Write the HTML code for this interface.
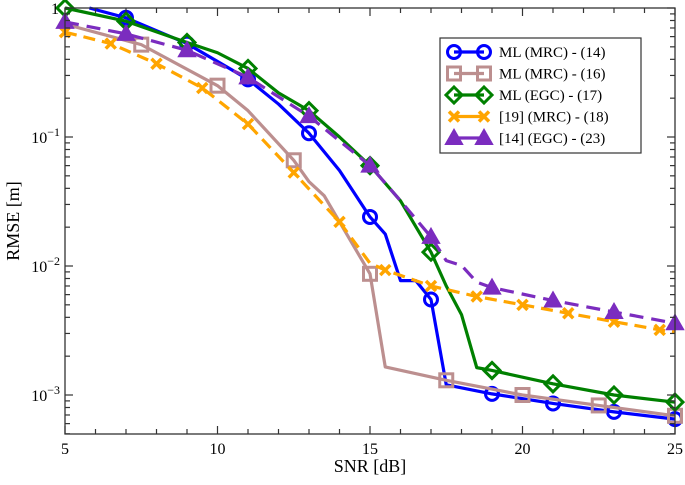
<!DOCTYPE html>
<html><head><meta charset="utf-8"><style>
html,body{margin:0;padding:0;background:#fff;}
svg text{font-family:"Liberation Serif",serif;fill:#000;}
</style></head><body>
<svg id="chart" width="685" height="480" viewBox="0 0 685 480" xmlns="http://www.w3.org/2000/svg">
<g id="grid"></g>
<g id="series"></g>
<rect x="65" y="8" width="610" height="426" fill="none" stroke="#333" stroke-width="1.3"/>
<g id="ticks"></g>
<text x="370" y="472" font-size="18" text-anchor="middle">SNR [dB]</text>
<text transform="translate(19,221) rotate(-90)" font-size="18" text-anchor="middle">RMSE [m]</text>
<g id="legend"></g>
</svg>
<script>
const xTicks=[5,10,15,20,25];
const yTickExps=[0,-1,-2,-3];
const snrA=[5.8,7,9,11,12,13,14,15,15.5,16,16.5,17,17.5,19,21,23,25];
const mlMrc14=[1.0,0.84,0.53,0.28,0.18,0.107,0.055,0.024,0.0177,0.0077,0.0077,0.0055,0.0012,0.00102,0.00086,0.00074,0.00065];
const snrB=[5,7.5,10,11,12.5,13,13.5,15,15.5,17.5,20,22.5,25];
const mlMrc16=[0.75,0.52,0.25,0.16,0.066,0.045,0.035,0.0087,0.00165,0.0013,0.001,0.00083,0.00069];
const snrC=[5,7,9,10,11,12,13,14,15,16,17,17.5,18,18.5,19,21,23,25];
const mlEgc17=[1.0,0.79,0.54,0.45,0.34,0.22,0.16,0.1,0.06,0.032,0.0128,0.007,0.0042,0.00163,0.00155,0.00122,0.001,0.00088];
const snrD=[5,6.5,8,9.5,11,12.5,14,15,15.5,17,18.5,20,21.5,23,24.5,25];
const ref19=[0.65,0.53,0.37,0.24,0.126,0.053,0.022,0.0105,0.0093,0.007,0.0058,0.005,0.0043,0.0037,0.0032,0.0031];
const snrE=[5,7,9,11,13,15,16,17,17.5,18,18.5,19,21,23,25];
const ref14=[0.78,0.63,0.47,0.29,0.145,0.06,0.032,0.0168,0.011,0.0101,0.0075,0.0068,0.0054,0.0044,0.0036];
const markA=[7,9,11,13,15,17,19,21,23,25];
const markB=[7.5,10,12.5,15,17.5,20,22.5,25];
const markC=[5,7,9,11,13,15,17,19,21,23,25];
const markD=[5,6.5,8,9.5,11,12.5,14,15.5,17,18.5,20,21.5,23,24.5];
const markE=[5,7,9,11,13,15,17,19,21,23,25];
const legendLabels=["ML (MRC) - (14)","ML (MRC) - (16)","ML (EGC) - (17)","[19] (MRC) - (18)","[14] (EGC) - (23)"];

const NS="http://www.w3.org/2000/svg";
const X0=65,X1=675,Y0=8,DEC=129;
function xs(v){return X0+(v-5)*(X1-X0)/20;}
function ys(v){return Y0-Math.log10(v)*DEC;}
function mk(tag,attrs,parent){const e=document.createElementNS(NS,tag);for(const k in attrs)e.setAttribute(k,attrs[k]);parent.appendChild(e);return e;}
const ticks=document.getElementById('ticks');
for(let s=5;s<=25;s++){const x=xs(s);const L=(s%5===0)?8:5;
 const t1=mk('line',{x1:x,x2:x,y1:434,y2:434-L,stroke:'#333','stroke-width':1.2},ticks);
 
 const t2=mk('line',{x1:x,x2:x,y1:8,y2:8+L,stroke:'#333','stroke-width':1.2},ticks);
 }
xTicks.forEach(v=>{const t=mk('text',{x:xs(v),y:454,'font-size':16,'text-anchor':'middle'},ticks);t.textContent=v;
 });
for(let e=-4;e<=0;e++){for(let m=1;m<10;m++){const v=m*Math.pow(10,e);if(v>1.0001||v<5e-4)continue;const y=ys(v);const L=m===1?8:5;
 const a=mk('line',{x1:65,x2:65+L,y1:y,y2:y,stroke:'#333','stroke-width':1.2},ticks);
 
 const b=mk('line',{x1:675,x2:675-L,y1:y,y2:y,stroke:'#333','stroke-width':1.2},ticks);
 }}
yTickExps.forEach(e=>{const y=ys(Math.pow(10,e));const t=mk('text',{x:e===0?59:60,y:y+6,'font-size':16,'text-anchor':'end'},ticks);
 if(e===0){t.textContent='1';}else{t.textContent='10';const sp=mk('tspan',{dy:-7,'font-size':12},t);sp.textContent='\u2212'+(-e);}
 });

function interp(xa,ya,x){for(let i=0;i<xa.length-1;i++){if(x>=xa[i]&&x<=xa[i+1]){const f=(x-xa[i])/(xa[i+1]-xa[i]);return Math.pow(10,Math.log10(ya[i])+f*(Math.log10(ya[i+1])-Math.log10(ya[i])));}}return ya[ya.length-1];}
function marker(type,x,y,color,parent){
 const r=6.5;let e;
 if(type==='o')e=mk('circle',{cx:x,cy:y,r:r,fill:'none',stroke:color,'stroke-width':3},parent);
 else if(type==='s')e=mk('rect',{x:x-r,y:y-r,width:2*r,height:2*r,fill:'none',stroke:color,'stroke-width':3},parent);
 else if(type==='d')e=mk('polygon',{points:`${x},${y-8} ${x+8},${y} ${x},${y+8} ${x-8},${y}`,fill:'none',stroke:color,'stroke-width':3},parent);
 else if(type==='x')e=mk('path',{d:`M${x-5},${y-5}L${x+5},${y+5}M${x-5},${y+5}L${x+5},${y-5}`,stroke:color,'stroke-width':3.5,fill:'none'},parent);
 else e=mk('polygon',{points:`${x},${y-8} ${x+8},${y+6} ${x-8},${y+6}`,fill:color,stroke:color,'stroke-width':2},parent);
 return e;}
const seriesG=document.getElementById('series');
const S=[
 {n:'ml-mrc-14',x:snrA,y:mlMrc14,m:markA,c:'#0000ff',t:'o',dash:null},
 {n:'ml-mrc-16',x:snrB,y:mlMrc16,m:markB,c:'#bc8f8f',t:'s',dash:null},
 {n:'ml-egc-17',x:snrC,y:mlEgc17,m:markC,c:'#008000',t:'d',dash:null},
 {n:'ref19-mrc-18',x:snrD,y:ref19,m:markD,c:'#ffa500',t:'x',dash:'12 7'},
 {n:'ref14-egc-23',x:snrE,y:ref14,m:markE,c:'#7b2cbf',t:'^',dash:'14 8'}];
S.forEach(s=>{const g=mk('g',{},seriesG);
 const pts=s.x.map((v,i)=>xs(v)+','+ys(s.y[i])).join(' ');
 const attrs={points:pts,fill:'none',stroke:s.c,'stroke-width':3.2,'stroke-linejoin':'round'};if(s.dash)attrs['stroke-dasharray']=s.dash;
 const l=mk('polyline',attrs,g);
 s.m.forEach(mx=>{const e=marker(s.t,xs(mx),ys(interp(s.x,s.y,mx)),s.c,g);});});
const lg=document.getElementById('legend');
const lb=mk('rect',{x:440,y:38,width:201,height:115,fill:'#fff',stroke:'#333','stroke-width':1.2},lg);

S.forEach((s,i)=>{const y=52+i*21.5;const g=mk('g',{},lg);
 const a={x1:454,x2:484,y1:y,y2:y,stroke:s.c,'stroke-width':3.2};mk('line',a,g);
 marker(s.t,454,y,s.c,g);marker(s.t,484,y,s.c,g);
 const t=mk('text',{x:499,y:y+5,'font-size':15},g);t.textContent=legendLabels[i];});
</script>
</body></html>
